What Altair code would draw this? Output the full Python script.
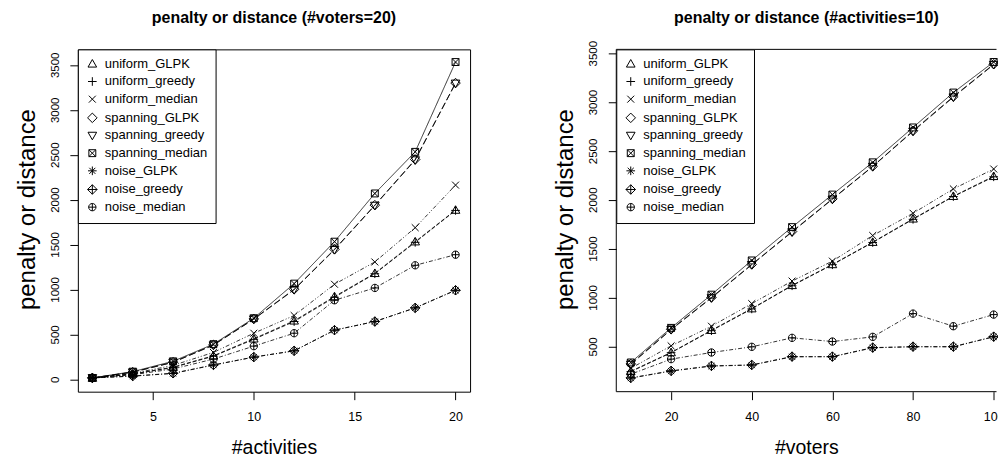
import altair as alt
import pandas as pd

FONT = "Liberation Sans"

series_names = ["uniform_GLPK", "uniform_greedy", "uniform_median",
                "spanning_GLPK", "spanning_greedy", "spanning_median",
                "noise_GLPK", "noise_greedy", "noise_median"]

# R pch 2..10 drawn as open symbols
shape_paths = [
    "M0,-1L1,0.75L-1,0.75Z",                                   # triangle up
    "M-1,0L1,0M0,-1L0,1",                                      # plus
    "M-0.8,-0.8L0.8,0.8M-0.8,0.8L0.8,-0.8",                    # cross
    "M0,-1.1L1.1,0L0,1.1L-1.1,0Z",                             # diamond
    "M0,1L1,-0.75L-1,-0.75Z",                                  # triangle down
    "M-0.8,-0.8H0.8V0.8H-0.8Z M-0.8,-0.8L0.8,0.8M-0.8,0.8L0.8,-0.8",  # square with x
    "M-1,0L1,0M0,-1L0,1M-0.7,-0.7L0.7,0.7M-0.7,0.7L0.7,-0.7",  # asterisk
    "M0,-1.1L1.1,0L0,1.1L-1.1,0Z M-1.1,0L1.1,0M0,-1.1L0,1.1",  # diamond plus
    "M-0.85,0A0.85,0.85 0 1,0 0.85,0A0.85,0.85 0 1,0 -0.85,0Z M-0.85,0L0.85,0M0,-0.85L0,0.85",  # circle plus
]
dash_styles = [[4, 2], [4, 2], [1, 2, 1, 2, 4, 2],
               [7, 3], [7, 3], [1, 0],
               [4, 2, 1, 2], [4, 2, 1, 2], [1, 2, 4, 2]]

# ---- left panel: #voters = 20, x = #activities
activities = [2, 4, 6, 8, 10, 12, 14, 16, 18, 20]
left_uniform_GLPK = [20, 65, 140, 267, 456, 656, 926, 1185, 1537, 1889]
left_uniform_greedy = [20, 62, 136, 262, 450, 648, 918, 1180, 1530, 1885]
left_uniform_median = [20, 70, 160, 304, 518, 715, 1063, 1311, 1693, 2167]
left_spanning_GLPK = [20, 85, 195, 388, 677, 1007, 1452, 1944, 2452, 3303]
left_spanning_greedy = [20, 84, 193, 385, 674, 1002, 1447, 1940, 2446, 3300]
left_spanning_median = [20, 90, 205, 396, 685, 1070, 1537, 2074, 2537, 3537]
left_noise_GLPK = [20, 40, 70, 163, 252, 322, 552, 648, 800, 996]
left_noise_greedy = [20, 41, 72, 165, 252, 322, 552, 648, 800, 996]
left_noise_median = [20, 55, 120, 230, 374, 518, 885, 1022, 1274, 1392]

# ---- right panel: #activities = 10, x = #voters
voters = [10, 20, 30, 40, 50, 60, 70, 80, 90, 100]
right_uniform_GLPK = [250, 442, 670, 891, 1129, 1343, 1571, 1810, 2041, 2245]
right_uniform_greedy = [245, 440, 665, 888, 1125, 1340, 1568, 1805, 2038, 2240]
right_uniform_median = [280, 510, 711, 942, 1173, 1377, 1639, 1867, 2116, 2320]
right_spanning_GLPK = [325, 680, 1005, 1343, 1680, 2014, 2347, 2711, 3061, 3392]
right_spanning_greedy = [320, 675, 1000, 1340, 1675, 2010, 2345, 2705, 3055, 3388]
right_spanning_median = [340, 694, 1034, 1384, 1725, 2058, 2388, 2745, 3102, 3415]
right_noise_GLPK = [180, 252, 303, 313, 398, 398, 490, 500, 500, 602]
right_noise_greedy = [182, 254, 305, 315, 400, 400, 492, 502, 502, 604]
right_noise_median = [220, 374, 442, 500, 592, 554, 602, 840, 711, 830]

left_series = [left_uniform_GLPK, left_uniform_greedy, left_uniform_median,
               left_spanning_GLPK, left_spanning_greedy, left_spanning_median,
               left_noise_GLPK, left_noise_greedy, left_noise_median]
right_series = [right_uniform_GLPK, right_uniform_greedy, right_uniform_median,
                right_spanning_GLPK, right_spanning_greedy, right_spanning_median,
                right_noise_GLPK, right_noise_greedy, right_noise_median]

left_xticks = [5, 10, 15, 20]
left_yticks = [0, 500, 1000, 1500, 2000, 2500, 3000, 3500]
right_xticks = [20, 40, 60, 80, 100]
right_yticks = [500, 1000, 1500, 2000, 2500, 3000, 3500]

H = 343


def make_df(xs, series):
    rows = []
    for name, vals in zip(series_names, series):
        for x, v in zip(xs, vals):
            rows.append({"x": x, "v": v, "series": name})
    return pd.DataFrame(rows)


def panel(xs, series, xdomain, ydomain, xticks, yticks, width, xtitle, title, title_x, framed, title_dy):
    df = make_df(xs, series)
    xenc = alt.X("x:Q", scale=alt.Scale(domain=xdomain, nice=False, zero=False),
                 axis=alt.Axis(values=xticks, title=xtitle, grid=False, domain=False,
                               tickSize=8, tickColor="black", tickWidth=1,
                               labelFont=FONT, labelFontSize=12.5, labelColor="black",
                               labelPadding=11, labelFlush=False, format="d",
                               titleFont=FONT, titleFontSize=19.5, titleFontWeight="normal",
                               titleColor="black", titleBaseline="alphabetic",
                               titleX=width / 2, titleY=62))
    yenc = alt.Y("v:Q", scale=alt.Scale(domain=ydomain, nice=False, zero=False),
                 axis=alt.Axis(values=yticks, title="penalty or distance", grid=False, domain=False,
                               tickSize=8, tickColor="black", tickWidth=1, labels=False,
                               titleFont=FONT, titleFontSize=24, titleFontWeight="normal",
                               titleColor="black", titleBaseline="alphabetic", titleAngle=-90,
                               titleAlign="center", titleX=title_x, titleY=160))
    layers = []
    for name, dash in zip(series_names, dash_styles):
        layers.append(
            alt.Chart(df).transform_filter(alt.datum.series == name)
            .mark_line(color="black", strokeWidth=0.8, strokeDash=dash)
            .encode(x=xenc, y=yenc)
        )
    points = alt.Chart(df).mark_point(filled=False, color="black", size=75, strokeWidth=1,
                                      opacity=1).encode(
        x=xenc, y=yenc,
        shape=alt.Shape("series:N", scale=alt.Scale(domain=series_names, range=shape_paths),
                        legend=alt.Legend(title=None, orient="top-left", offset=0, padding=8,
                                          strokeColor="black", fillColor="white",
                                          labelFont=FONT, labelFontSize=13, labelColor="black",
                                          labelOffset=6, rowPadding=3.7, symbolSize=75,
                                          symbolStrokeWidth=1, symbolStrokeColor="black",
                                          symbolFillColor="transparent", labelLimit=300)),
    )
    layers.append(points)
    # rotated y tick labels (R style, parallel to the axis)
    ylab_df = pd.DataFrame({"v": yticks, "lab": [str(t) for t in yticks]})
    layers.append(
        alt.Chart(ylab_df).mark_text(angle=270, align="center", baseline="alphabetic",
                                     font=FONT, fontSize=11.5, color="black")
        .encode(x=alt.value(-19), y=yenc, text="lab:N")
    )
    if not framed:
        frame = alt.Chart(pd.DataFrame({"a": [0]}))
        layers.append(frame.mark_rule(color="black", strokeWidth=1).encode(x=alt.value(0)))
        layers.append(frame.mark_rule(color="black", strokeWidth=1).encode(y=alt.value(0)))
        layers.append(frame.mark_rule(color="black", strokeWidth=1).encode(y=alt.value(H)))
    ch = alt.layer(*layers).properties(
        width=width, height=H,
        title=alt.TitleParams(title, font=FONT, fontSize=16, fontWeight="bold", color="black",
                              anchor="middle", frame="group", baseline="alphabetic", offset=10.2,
                              dy=title_dy),
    )
    if framed:
        ch = ch.properties(view=alt.ViewBackground(stroke="black", strokeWidth=1))
    else:
        ch = ch.properties(view=alt.ViewBackground(stroke="transparent"))
    return ch


left = panel(activities, left_series, [1.28, 20.72], [-133, 3678], left_xticks, left_yticks,
             393, "#activities", "penalty or distance (#voters=20)", -43, True, 0)
right = panel(voters, right_series, [6.4, 100.7], [41, 3544], right_xticks, right_yticks,
              381, "#voters", "penalty or distance (#activities=10)", -44, False, 8)

chart = alt.hconcat(left, right, spacing=81.5).resolve_scale(
    shape="independent"
).resolve_legend(shape="independent").properties(
    padding={"left": 7, "top": 0, "right": -7, "bottom": 0}
).configure(background="white")

chart.save("out.html", embed_options={"renderer": "svg", "actions": False})
